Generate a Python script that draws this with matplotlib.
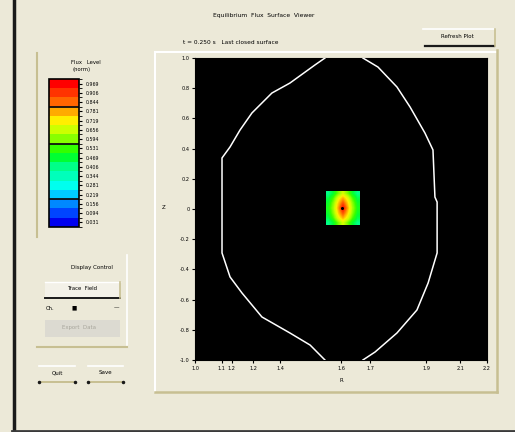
import numpy as np
import matplotlib
matplotlib.use("Agg")
import matplotlib.pyplot as plt
from matplotlib.colors import ListedColormap, LinearSegmentedColormap, BoundaryNorm
from matplotlib.cm import ScalarMappable
from matplotlib.lines import Line2D
from matplotlib.patches import Rectangle

# boundary (last closed flux surface), left and right branches
r_left = [1.534, 1.493, 1.390, 1.316, 1.234, 1.185, 1.144, 1.111, 1.111,
          1.144, 1.193, 1.275, 1.390, 1.473, 1.534]
z_left = [1.000, 0.954, 0.834, 0.768, 0.636, 0.523, 0.411, 0.338, -0.291,
          -0.450, -0.556, -0.715, -0.821, -0.901, -1.000]
r_right = [1.690, 1.740, 1.830, 1.912, 1.958, 1.995, 1.995, 1.986, 1.978,
           1.945, 1.884, 1.830, 1.752, 1.690]
z_right = [-1.000, -0.947, -0.821, -0.669, -0.490, -0.291, 0.046, 0.079, 0.391,
           0.503, 0.675, 0.808, 0.940, 1.000]

# field values on the small patch around the axis
patch_vals = [
    [0.40, 0.47, 0.58, 0.68, 0.58, 0.47, 0.40],
    [0.45, 0.55, 0.70, 0.80, 0.70, 0.55, 0.45],
    [0.48, 0.60, 0.76, 0.90, 0.76, 0.60, 0.48],
    [0.50, 0.62, 0.80, 1.00, 0.80, 0.62, 0.50],
    [0.48, 0.60, 0.76, 0.90, 0.76, 0.60, 0.48],
    [0.45, 0.55, 0.70, 0.80, 0.70, 0.55, 0.45],
    [0.40, 0.47, 0.58, 0.68, 0.58, 0.47, 0.40],
]
patch_r = [1.538, 1.674]
patch_z = [-0.106, 0.119]
axis_r, axis_z = 1.604, 0.007

x_ticks = [1.0, 1.11, 1.15, 1.24, 1.35, 1.60, 1.72, 1.95, 2.09, 2.2]
x_labels = ['1.0', '1.1', '1.2', '1.2', '1.4', '1.6', '1.7', '1.9', '2.1', '2.2']
y_ticks = [1.0, 0.8, 0.6, 0.4, 0.2, 0.0, -0.2, -0.4, -0.6, -0.8, -1.0]
y_labels = ['1.0', '0.8', '0.6', '0.4', '0.2', '0', '-0.2', '-0.4', '-0.6', '-0.8', '-1.0']

# colour scale, bottom to top
levels = [0.0, 0.0625, 0.125, 0.1875, 0.25, 0.3125, 0.375, 0.4375, 0.5,
          0.5625, 0.625, 0.6875, 0.75, 0.8125, 0.875, 0.9375, 1.0]
band_colors = ['#0000EE', '#0044FF', '#0088FF', '#00CCFF', '#00FFEE', '#00FFBB',
               '#00FF88', '#00FF33', '#33FF00', '#88FF00', '#CCFF00', '#FFEE00',
               '#FFAA00', '#FF6600', '#FF3300', '#FF0000']
band_labels = ['0.031', '0.094', '0.156', '0.219', '0.281', '0.344', '0.406', '0.469',
               '0.531', '0.594', '0.656', '0.719', '0.781', '0.844', '0.906', '0.969']
sep_levels = [0.1875, 0.5625, 0.8125]

BG = '#ECE9D8'
OLIVE = '#C7BF92'
W, H = 515, 432

fig = plt.figure(figsize=(W / 100, H / 100), dpi=100, facecolor=BG)


def fx(px):
    return px / W


def fy(py):
    return 1 - py / H


def hline(y, x0, x1, color, lw=1.5):
    fig.add_artist(Line2D([fx(x0), fx(x1)], [fy(y), fy(y)], color=color, lw=lw,
                          transform=fig.transFigure))


def vline(x, y0, y1, color, lw=1.5):
    fig.add_artist(Line2D([fx(x), fx(x)], [fy(y0), fy(y1)], color=color, lw=lw,
                          transform=fig.transFigure))


def label(px, py, s, size=4.0, ha='center', color='black', **kw):
    fig.text(fx(px), fy(py), s, fontsize=size, ha=ha, va='center', color=color, **kw)


# window borders
vline(13.5, 0, 432, '#1A1A1A', lw=2.5)
hline(430.5, 12, 515, '#3A3A3A', lw=2.0)

# titles
label(264, 15, 'Equilibrium  Flux  Surface  Viewer', size=4.3)
label(183, 43, 't = 0.250 s   Last closed surface', size=4.2, ha='left')

# top-right button
hline(29, 423, 495, 'white', lw=1.2)
hline(46, 425, 494, '#1A1A1A', lw=1.6)
vline(495, 29, 46, OLIVE, lw=1.2)
label(457, 37, 'Refresh Plot', size=4.0)

# plot panel frame
hline(52, 155, 497, 'white', lw=1.5)
vline(155, 52, 392, 'white', lw=1.5)
vline(497, 50, 392, OLIVE, lw=1.8)
hline(392, 155, 497, OLIVE, lw=1.8)

# main plot
ax = fig.add_axes([fx(195), fy(360), (487 - 195) / W, (360 - 58) / H])
ax.set_facecolor('black')
ax.set_xlim(1.0, 2.2)
ax.set_ylim(-1.0, 1.0)
smooth = LinearSegmentedColormap.from_list('smooth', band_colors)
ax.imshow(patch_vals, extent=[patch_r[0], patch_r[1], patch_z[0], patch_z[1]],
          cmap=smooth, vmin=0, vmax=1, interpolation='bilinear', aspect='auto', zorder=2)
ax.plot([axis_r], [axis_z], marker='o', ms=1.2, color='black', zorder=3)
ax.plot(r_left, z_left, color='white', lw=1.1, zorder=4)
ax.plot(r_right, z_right, color='white', lw=1.1, zorder=4)
ax.set_xticks(x_ticks)
ax.set_xticklabels(x_labels)
ax.set_yticks(y_ticks)
ax.set_yticklabels(y_labels)
ax.tick_params(labelsize=3.6, length=2, width=0.8, pad=2)
for s in ax.spines.values():
    s.set_color('black')
    s.set_linewidth(0.8)
label(341, 381, 'R', size=4.0)
label(164, 208, 'Z', size=4.0)

# colour bar group
vline(37, 53, 237, OLIVE, lw=1.5)
label(86, 62, 'Flux   Level', size=3.8)
label(82, 70, '(norm)', size=3.8)
cax = fig.add_axes([fx(49), fy(227), 30 / W, 148 / H])
cmap = ListedColormap(band_colors)
norm = BoundaryNorm(levels, cmap.N)
cb = fig.colorbar(ScalarMappable(norm=norm, cmap=cmap), cax=cax)
centers = [(a + b) / 2 for a, b in zip(levels[:-1], levels[1:])]
cb.set_ticks(centers)
cb.set_ticklabels(band_labels)
cax.tick_params(labelsize=3.4, length=2, width=0.8, pad=3)
cb.outline.set_linewidth(1.2)
for lv in sep_levels:
    cax.axhline(lv, color='#101010', lw=1.3)

# display control group
label(92, 267, 'Display Control', size=4.0)
vline(127, 255, 345, 'white', lw=1.2)
hline(347, 37, 127, OLIVE, lw=1.5)
fig.add_artist(Rectangle((fx(45), fy(298)), 75 / W, 16 / H, transform=fig.transFigure,
                         facecolor='#F3F1E8', edgecolor='none'))
hline(282, 45, 120, 'white', lw=1.0)
hline(297.5, 45, 120, '#1A1A1A', lw=1.4)
vline(120, 282, 298, OLIVE, lw=1.2)
label(82, 289, 'Trace  Field', size=3.9)
label(46, 308, 'Ch.', size=3.8, ha='left')
label(74, 308, '\u25a0', size=4.0)
label(116, 308, '\u2014', size=4.0)
fig.add_artist(Rectangle((fx(45), fy(337)), 75 / W, 17 / H, transform=fig.transFigure,
                         facecolor='#DCDAD1', edgecolor='none'))
label(79, 327, 'Export  Data', size=3.9, color='#A8A69C')

# bottom buttons
for x0, x1, txt in [(39, 75, 'Quit'), (88, 123, 'Save')]:
    hline(366, x0, x1, 'white', lw=1.2)
    hline(382, x0, x1, OLIVE, lw=1.4)
    fig.add_artist(Line2D([fx(x0), fx(x1)], [fy(382), fy(382)], ls='none', marker='o',
                          ms=1.5, color='#1A1A1A', transform=fig.transFigure))
    label((x0 + x1) / 2, 373, txt, size=4.0)

fig.savefig('out.png', dpi=100, facecolor=BG)
